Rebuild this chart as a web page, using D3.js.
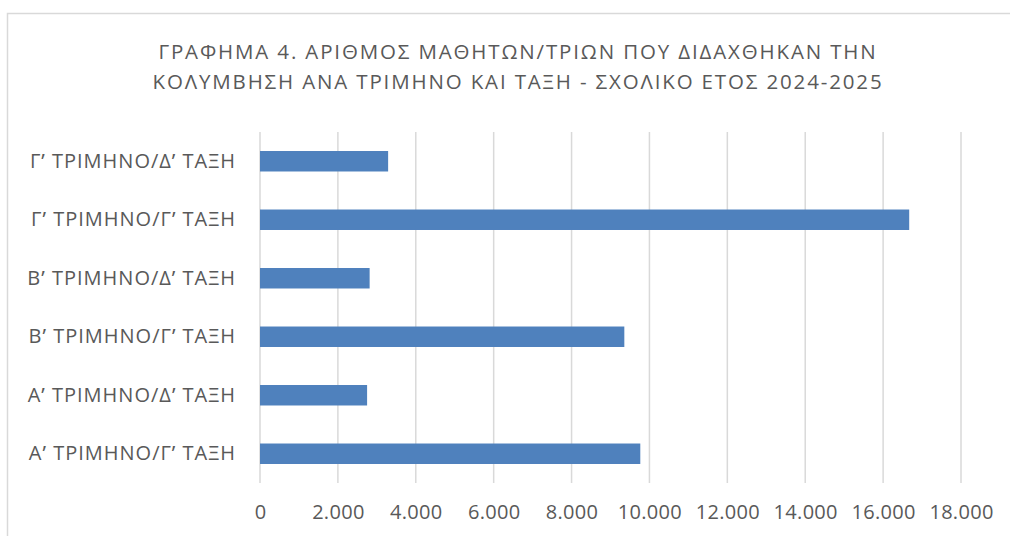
<!DOCTYPE html>
<html>
<head>
<meta charset="utf-8">
<script src="https://cdn.jsdelivr.net/npm/d3@7"></script>
<style>
  body { margin: 0; background: #fff; }
  text { font-family: "Open Sans", "Noto Sans", sans-serif; fill: #595959; }
</style>
</head>
<body>
<div id="chart"></div>
<script>
// ---- DATA ----
var titleLines = [
  "ΓΡΑΦΗΜΑ 4. ΑΡΙΘΜΟΣ ΜΑΘΗΤΩΝ/ΤΡΙΩΝ ΠΟΥ ΔΙΔΑΧΘΗΚΑΝ ΤΗΝ",
  "ΚΟΛΥΜΒΗΣΗ ΑΝΑ ΤΡΙΜΗΝΟ ΚΑΙ ΤΑΞΗ - ΣΧΟΛΙΚΟ ΕΤΟΣ 2024-2025"
];
var categories = [
  "Αʹ ΤΡΙΜΗΝΟ/Γʹ ΤΑΞΗ",
  "Αʹ ΤΡΙΜΗΝΟ/Δʹ ΤΑΞΗ",
  "Βʹ ΤΡΙΜΗΝΟ/Γʹ ΤΑΞΗ",
  "Βʹ ΤΡΙΜΗΝΟ/Δʹ ΤΑΞΗ",
  "Γʹ ΤΡΙΜΗΝΟ/Γʹ ΤΑΞΗ",
  "Γʹ ΤΡΙΜΗΝΟ/Δʹ ΤΑΞΗ"
];
var values = [9765, 2750, 9355, 2815, 16670, 3290];
var xTicks = [0, 2000, 4000, 6000, 8000, 10000, 12000, 14000, 16000, 18000];

// ---- VARIABLES ----
var w = 1010;
var h = 536;
var plot = { left: 260, right: 961, top: 132, bottom: 483 };

var locale = d3.formatLocale({ decimal: ",", thousands: ".", grouping: [3], currency: ["", "€"] });
var fmt = locale.format(",d");

// ---- SCALES ----
var xScale = d3.scaleLinear()
  .domain([0, 18000])
  .range([plot.left, plot.right]);

// first category at the bottom, like Excel
var yScale = d3.scaleBand()
  .domain(categories.slice().reverse())
  .range([plot.top, plot.bottom])
  .paddingInner(0.65)
  .paddingOuter(0.325);

var svg = d3.select("#chart")
  .append("svg")
  .attr("width", w)
  .attr("height", h);

// chart border
svg.append("rect")
  .attr("x", 7.5)
  .attr("y", 13.5)
  .attr("width", w + 20)
  .attr("height", h + 20)
  .attr("fill", "none")
  .attr("stroke", "#d9d9d9")
  .attr("stroke-width", 1.5);

// title
svg.append("text")
  .attr("text-anchor", "middle")
  .attr("font-size", "20.5px")
  .attr("letter-spacing", "1.85px")
  .selectAll("tspan")
  .data(titleLines)
  .enter()
  .append("tspan")
  .attr("x", 518)
  .attr("y", function(d, i) { return 58.5 + i * 30; })
  .text(function(d) { return d; });

// gridlines
svg.append("g")
  .selectAll("line")
  .data(xTicks)
  .enter()
  .append("line")
  .attr("x1", function(d) { return xScale(d); })
  .attr("x2", function(d) { return xScale(d); })
  .attr("y1", plot.top)
  .attr("y2", plot.bottom)
  .attr("stroke", "#d9d9d9")
  .attr("stroke-width", 1.5);

// bars
svg.append("g")
  .selectAll("rect")
  .data(values)
  .enter()
  .append("rect")
  .attr("x", xScale(0))
  .attr("y", function(d, i) { return yScale(categories[i]); })
  .attr("width", function(d) { return xScale(d) - xScale(0); })
  .attr("height", yScale.bandwidth())
  .attr("fill", "#4f81bd");

// x axis
var xAxis = d3.axisBottom(xScale)
  .tickValues(xTicks)
  .tickFormat(fmt)
  .tickSize(0)
  .tickPadding(0);

svg.append("g")
  .attr("class", "xAxis")
  .attr("transform", "translate(0," + (plot.bottom + 22) + ")")
  .call(xAxis)
  .call(function(g) { g.select(".domain").remove(); })
  .selectAll("text")
  .attr("font-size", "20px")
  .attr("letter-spacing", "0.3px")
  .attr("fill", "#595959")
  .attr("font-family", null);

// y axis
var yAxis = d3.axisLeft(yScale)
  .tickSize(0)
  .tickPadding(24);

svg.append("g")
  .attr("class", "yAxis")
  .attr("transform", "translate(" + plot.left + ",0)")
  .call(yAxis)
  .call(function(g) { g.select(".domain").remove(); })
  .selectAll("text")
  .attr("font-size", "20px")
  .attr("letter-spacing", "1px")
  .attr("fill", "#595959")
  .attr("font-family", null);
</script>
</body>
</html>
